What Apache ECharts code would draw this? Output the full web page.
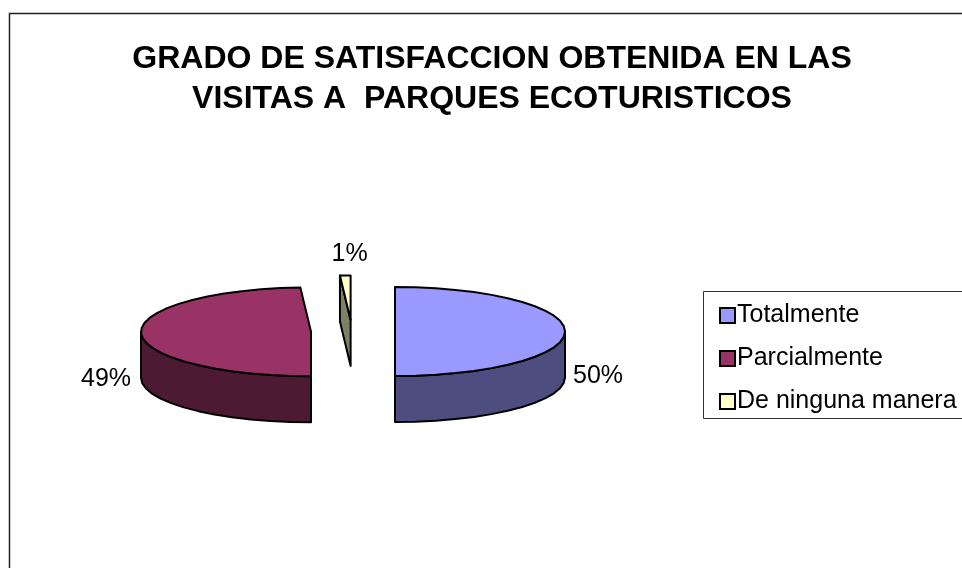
<!DOCTYPE html>
<html>
<head>
<meta charset="utf-8">
<title>Grado de satisfaccion</title>
<script src="https://cdn.jsdelivr.net/npm/echarts@6/dist/echarts.min.js"></script>
<style>
body { margin: 0; background: #fff; }
#main { width: 962px; height: 568px; }
</style>
</head>
<body>
<div id="main"></div>
<script>
const categories = ['Totalmente', 'Parcialmente', 'De ninguna manera'];
const values = [50, 49, 1];

const titleText = 'GRADO DE SATISFACCION OBTENIDA EN LAS\nVISITAS A  PARQUES ECOTURISTICOS';
const fontName = '"Liberation Sans", Arial, sans-serif';
const sliceColors = ['#9999ff', '#993366', '#ffffcc'];
const sideColors = ['#4d4d80', '#4d1a33', '#808066'];

// pie geometry
const centerX = 352;
const centerY = 331.5;
const radiusX = 170;
const radiusY = 44.5;
const depth = 46;
const explode = [43, 41, 44];
// where the percent labels sit, relative to the slice centre
const labelOffset = [[203, 45], [-205, 47], [-1, -66]];

const total = values.reduce(function (a, b) { return a + b; }, 0);

// angles are in degrees, clockwise from twelve o'clock
function arcPoints(cx, cy, from, to) {
  const pts = [];
  const steps = Math.max(1, Math.ceil((to - from) / 7));
  for (let i = 0; i <= steps; i++) {
    const a = (from + (to - from) * i / steps) * Math.PI / 180;
    pts.push([cx + radiusX * Math.sin(a), cy - radiusY * Math.cos(a)]);
  }
  return pts;
}

function shape(points, fill) {
  return {
    type: 'polygon',
    shape: { points: points },
    style: { fill: fill, stroke: '#000', lineWidth: 2, lineJoin: 'round' }
  };
}

function renderSlice(index, from, to) {
  const mid = (from + to) / 2 * Math.PI / 180;
  const cx = centerX + explode[index] * Math.sin(mid);
  const cy = centerY - explode[index] * Math.cos(mid) * radiusY / radiusX;
  const children = [];

  // radial face, only seen when it turns towards the viewer
  if (from > 180) {
    const p = arcPoints(cx, cy, from, from)[0];
    children.push(shape([p, [cx, cy], [cx, cy + depth], [p[0], p[1] + depth]], sideColors[index]));
  }

  // outer wall, lower half of the ellipse only
  const wallFrom = Math.max(from, 90);
  const wallTo = Math.min(to, 270);
  if (wallTo > wallFrom) {
    const top = arcPoints(cx, cy, wallFrom, wallTo);
    const bottom = top.map(function (p) { return [p[0], p[1] + depth]; }).reverse();
    children.push(shape(top.concat(bottom), sideColors[index]));
  }

  // top
  children.push(shape([[cx, cy]].concat(arcPoints(cx, cy, from, to)), sliceColors[index]));

  children.push({
    type: 'text',
    style: {
      text: Math.round(values[index] / total * 100) + '%',
      x: cx + labelOffset[index][0],
      y: cy + labelOffset[index][1],
      fill: '#000',
      font: '25px ' + fontName,
      textAlign: 'center',
      textVerticalAlign: 'middle'
    }
  });
  return { type: 'group', children: children };
}

let start = 0;
const seriesList = categories.map(function (name, i) {
  const from = start;
  const to = start + values[i] / total * 360;
  start = to;
  return {
    name: name,
    type: 'custom',
    coordinateSystem: 'none',
    silent: true,
    itemStyle: { color: sliceColors[i] },
    data: [values[i]],
    renderItem: function () {
      return renderSlice(i, from, to);
    }
  };
});

const myChart = echarts.init(document.getElementById('main'), null, { renderer: 'canvas' });
myChart.setOption({
  backgroundColor: '#fff',
  animation: false,
  title: {
    text: titleText,
    left: 487,
    top: 34,
    textAlign: 'center',
    textStyle: {
      fontFamily: fontName,
      fontSize: 32,
      fontWeight: 'bold',
      color: '#000',
      lineHeight: 40
    }
  },
  legend: {
    orient: 'vertical',
    left: 714,
    top: 298,
    itemWidth: 15,
    itemHeight: 15,
    itemGap: 18,
    icon: 'rect',
    itemStyle: { borderColor: '#000', borderWidth: 2 },
    selectedMode: false,
    textStyle: { fontFamily: fontName, fontSize: 25, color: '#000', padding: [0, 0, 6, -3] },
    data: categories
  },
  graphic: [
    {
      type: 'rect',
      silent: true,
      shape: { x: 9.5, y: 13.5, width: 1000, height: 600 },
      style: { fill: 'none', stroke: '#222', lineWidth: 1.5 }
    },
    {
      type: 'rect',
      silent: true,
      shape: { x: 703.5, y: 291.5, width: 300, height: 127 },
      style: { fill: 'none', stroke: '#333', lineWidth: 1 }
    }
  ],
  series: seriesList
});
</script>
</body>
</html>
